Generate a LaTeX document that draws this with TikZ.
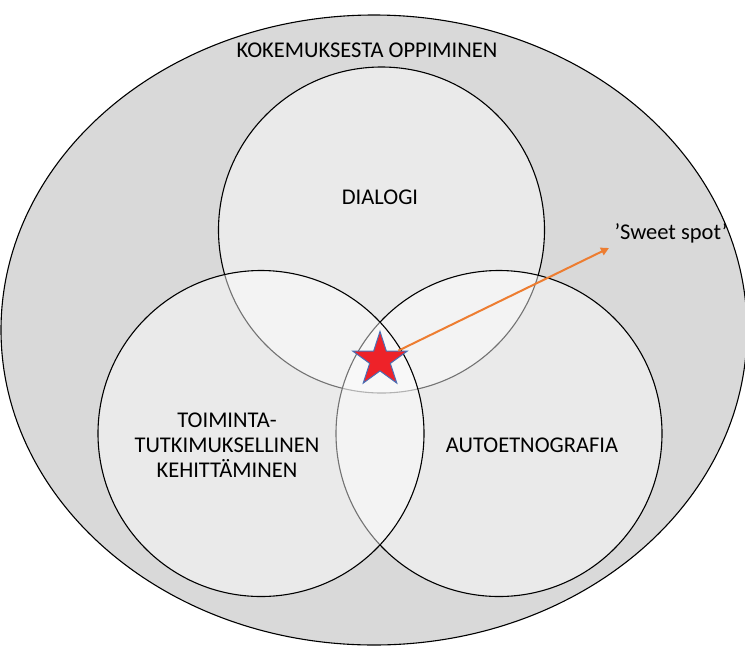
\documentclass[tikz,border=0pt]{standalone}
\usepackage{fontspec}
\setmainfont{Carlito}
\usetikzlibrary{shapes.geometric,arrows.meta}
\definecolor{outer}{HTML}{D9D9D9}
\definecolor{starred}{HTML}{EE2229}
\definecolor{starblue}{HTML}{4A6FB5}
\definecolor{arroworange}{HTML}{ED7D31}
\tikzset{
  venn/.style={circle, draw=black, line width=1.1pt, fill=white, fill opacity=0.45, text opacity=1, minimum size=326pt, inner sep=0pt},
  lbl/.style={font=\fontsize{22.5}{25}\selectfont, text=black, align=center, inner sep=0pt},
}
\begin{document}
\begin{tikzpicture}[x=1pt,y=-1pt]
\useasboundingbox (0,0) rectangle (745,649);
\node[ellipse, draw=black, line width=1.1pt, fill=outer, minimum width=746pt, minimum height=630pt, inner sep=0pt] (big) at (374,330) {};
\node[venn] (top) at (381.5,230) {};
\node[venn] (right) at (499,433.5) {};
\node[venn] (left) at (261,433.5) {};
\node[star, star points=5, star point ratio=2.618, minimum size=57pt, inner sep=0pt, fill=starred, draw=starblue, line width=1pt] (star) at (380,360) {};
\coordinate (tip) at (609,248);
\draw[arroworange, line width=2pt, -{Triangle[length=8pt,width=8pt]}] (star.27) -- (tip);
\node[lbl] (kok) at (367,50) {KOKEMUKSESTA OPPIMINEN};
\node[lbl] (dia) at (380,197) {DIALOGI};
\node[lbl] (sweet) at (671,233) {’Sweet spot’};
\node[lbl] (toim) at (227,445) {TOIMINTA-\\TUTKIMUKSELLINEN\\KEHITTÄMINEN};
\node[lbl] (auto) at (532,445) {AUTOETNOGRAFIA};
\end{tikzpicture}
\end{document}
